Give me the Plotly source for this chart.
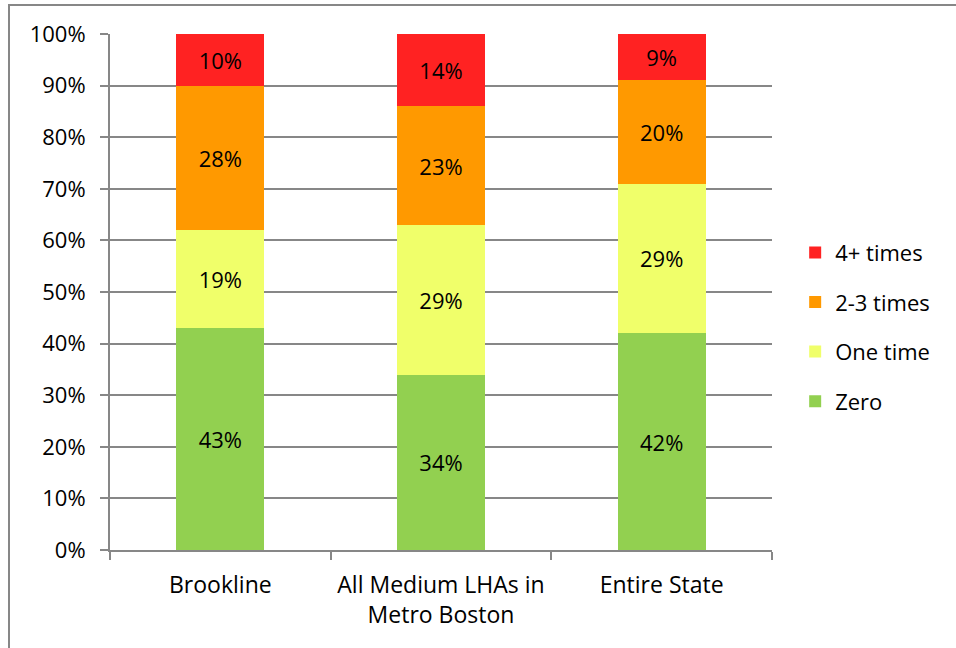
import plotly.graph_objects as go

categories = ["Brookline", "All Medium LHAs in<br>Metro Boston", "Entire State"]
series_names = ["Zero", "One time", "2-3 times", "4+ times"]
zero = [43, 34, 42]
one_time = [19, 29, 29]
two_three = [28, 23, 20]
four_plus = [10, 14, 9]
colors = ["#92D050", "#F0FF6A", "#FF9900", "#FF2222"]
legend_ranks = [4, 3, 2, 1]
y_ticks = [0, 10, 20, 30, 40, 50, 60, 70, 80, 90, 100]
y_tick_labels = [f"{v}%" for v in y_ticks]

FONT = "Open Sans"
FS = 22
GRAY = "#878787"

# plot area in screen px: x 110..772, y 34..550 (body margin removed)
ML, MT = 110, 34
PW, PH = 662, 516
MR = 956 - ML - PW
MB = 648 - MT - PH

fig = go.Figure()
for name, vals, col, rank in zip(series_names, [zero, one_time, two_three, four_plus], colors, legend_ranks):
    fig.add_trace(go.Bar(
        x=categories, y=vals, name=name, marker=dict(color=col, line=dict(width=0)),
        text=[f"{v}%" for v in vals], texttemplate="%{text}",
        textposition="inside", insidetextanchor="middle",
        textangle=0, constraintext="none",
        textfont=dict(family=FONT, size=FS, color="black"),
        legendgroup=name, legendrank=rank, hoverinfo="skip",
    ))

fig.update_layout(
    barmode="stack", bargap=0.6,
    width=956, height=648,
    margin=dict(l=ML, r=MR, t=MT, b=MB),
    plot_bgcolor="white", paper_bgcolor="white",
    font=dict(family=FONT, size=FS, color="black"),
    showlegend=True,
    legend=dict(x=1.035, xanchor="left", y=0.432, yanchor="middle",
                traceorder="grouped", tracegroupgap=18,
                font=dict(family=FONT, size=FS, color="black"),
                bgcolor="rgba(0,0,0,0)", itemclick=False),
    xaxis=dict(showgrid=False, showline=True, linecolor=GRAY, linewidth=2,
               ticks="outside", ticklen=8, tickcolor=GRAY, tickwidth=2,
               tickson="boundaries", ticklabelstandoff=13,
               tickfont=dict(family=FONT, size=23, color="black"),
               fixedrange=True),
    yaxis=dict(range=[0, 100], tickmode="array", tickvals=y_ticks, ticktext=y_tick_labels,
               showgrid=True, gridcolor=GRAY, gridwidth=2,
               showline=True, linecolor=GRAY, linewidth=2,
               ticks="outside", ticklen=8, tickcolor=GRAY, tickwidth=2,
               ticklabelstandoff=10,
               tickfont=dict(family=FONT, size=FS, color="black"),
               zeroline=False, fixedrange=True),
    shapes=[dict(type="rect", xref="paper", yref="paper",
                 x0=(9 - ML) / PW, x1=(970 - ML) / PW,
                 y0=(550 - 660) / PH, y1=(550 - 5) / PH,
                 line=dict(color=GRAY, width=2), fillcolor="rgba(0,0,0,0)", layer="below")],
)

fig.write_html("out.html", config={"displayModeBar": False},
               post_script="document.body.style.margin='0';")
